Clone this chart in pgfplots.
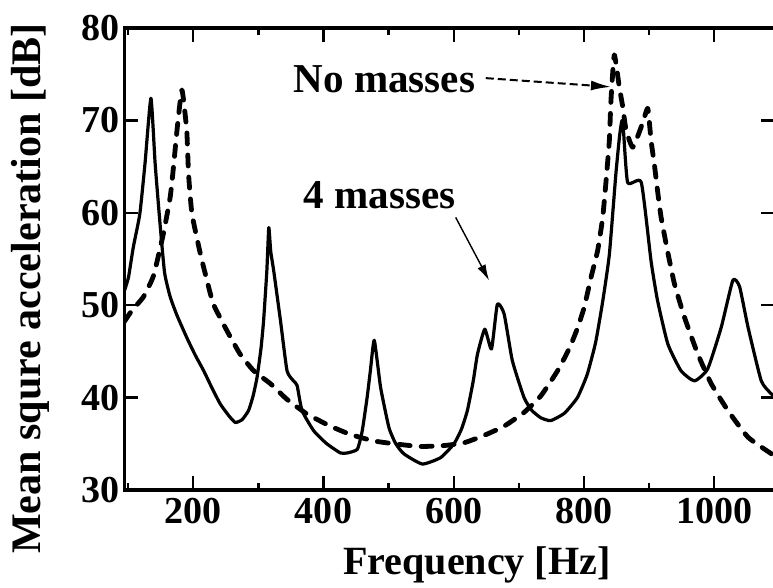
\documentclass[border=0pt]{standalone}
\usepackage{fontspec}
\setmainfont{Liberation Serif}
\usepackage{pgfplots}
\pgfplotsset{compat=1.18}
\usetikzlibrary{arrows.meta}
\begin{document}
\begin{tikzpicture}
\useasboundingbox (-62pt,-48.5pt) rectangle (323.8pt,244.5pt);
\begin{axis}[
  at={(0,0)}, anchor=south west,
  scale only axis, width=325pt, height=230.5pt,
  xmin=94, xmax=1094, ymin=30, ymax=80,
  xtick={200,400,...,1000}, minor xtick={100,300,...,1100},
  ytick={30,40,...,80},
  tick align=inside,
  major tick length=7pt, minor tick length=3.5pt,
  every tick/.style={black, line width=1.2pt},
  axis line style={line width=1.7pt},
  tick label style={font=\fontsize{19}{19}\selectfont\bfseries},
  /pgf/number format/assume math mode=true,
  /pgf/number format/1000 sep={},
  xticklabel style={inner sep=0pt, yshift=-4pt},
  yticklabel style={inner sep=0pt, xshift=-2pt},
  xlabel={Frequency [Hz]}, ylabel={Mean squre acceleration [dB]},
  xlabel style={at={(axis description cs:0.5415,-0.1822)}, anchor=base, font=\fontsize{20}{20}\selectfont\bfseries},
  ylabel style={at={(axis description cs:-0.1446,0.436)}, anchor=center, font=\fontsize{21}{21}\selectfont\bfseries},
]
\addplot[black, line width=1.6pt, line join=round, smooth, tension=0.3] coordinates {
(94,51.5) (100.5,53) (108,56.3) (118,59.9) (126,65.4) (135,72.4) (141.5,65.3) (149,58.8) (156,53.5) (164.6,50.9)
(175,48.9) (190,46.5) (203,44.6) (216,42.9) (229,41.0) (241.5,39.3) (255,38.0) (264.6,37.3) (275,37.6) (285,38.6) (292,40.2) (298,42.2) (304,45.3) (308,48.3) (313,53.7)
(316,58.4) (319,55.8) (323.6,53.7) (334,48.3) (344,42.9) (354,41.8) (359.5,41.3) (367,38.6) (385,36.4) (405,35.0) (426,34.0)
(436.5,34.0) (452,34.4) (459.5,36.4) (467,40) (472,42.9) (478,46.2) (487.7,41.1) (500.5,36.75) (511,35.0) (523.5,33.9) (551.8,32.8)
(580,33.5) (600.5,35) (612,36.6) (621,38.6) (630,41.8) (636.5,44.7) (647.7,47.4) (658,45.25) (667,50.1) (677.4,49.05) (690,44) (708,40)
(720,38.6) (734,37.8) (749,37.5) (770,38.3) (790,40.0) (805,42.5) (818,46) (829,50.5) (839,55.5) (849,64.2) (855,68.5)
(859.5,70) (867,63.3) (888,63.3) (903,54.8) (913,50.5) (928.8,45.8) (949,42.9) (969.7,41.8) (990,43.1) (1010.8,47.6)
(1028.7,52.7) (1039,52) (1052,47.6) (1072.3,41.8) (1087.7,40.4) (1094,40.1)
};
\addplot[black, line width=2.4pt, dash pattern=on 5.5pt off 5.5pt, line cap=round, line join=round, smooth, tension=0.3] coordinates {
(94,48.2) (105.6,49.4) (123.5,50.9) (139,53.2) (154,57.7) (164.6,61.7) (169.7,65) (175,68.9) (182.6,73.3) (190,68.9)
(192.8,64.2) (198,59.9) (210.8,55.6) (221,52.7) (231,50.1) (252,47.2) (272,44.7) (292.8,42.9) (318.5,41.5) (344,39.8)
(375,38.2) (410.8,36.9) (441.5,36.0) (477.4,35.3) (513.4,34.95) (549,34.7) (585,34.8) (615.8,35.1) (646.6,35.9) (677.4,36.9)
(708.2,38.4) (734,40.2) (759.5,42.9) (777.4,45.3) (790,47.5) (800.5,49.8) (810.8,53) (821,55.9) (828.8,59.5) (834,63.5)
(839,67.85) (841.5,72.2) (846.6,77.1) (854.3,73.6) (859.5,71.5) (864.6,69) (875,67.1) (890,69.7) (898,71.3) (903,67.85)
(908,65.3) (913,62.4) (918.5,59.5) (928.8,55.7) (939,52.3) (954.3,48.7) (974.9,44.7) (995.4,41.5) (1021,38.6) (1052,35.7)
(1088,33.9) (1094,33.6)
};
\node[anchor=base west, inner sep=0pt, font=\fontsize{20.5}{20.5}\selectfont\bfseries] at (axis cs:353.8,73.06) {No masses};
\node[anchor=base west, inner sep=0pt, font=\fontsize{20.5}{20.5}\selectfont\bfseries] at (axis cs:369.2,60.5) {4 masses};
\draw[black, line width=1pt, dash pattern=on 4pt off 2pt, -{Latex[length=10pt,width=5pt]}] (axis cs:649.2,74.58) -- (axis cs:841.5,73.63);
\draw[black, line width=0.7pt, -{Latex[length=8pt,width=4.5pt]}] (axis cs:603,59.5) -- (axis cs:654.3,52.67);
\end{axis}
\end{tikzpicture}
\end{document}
